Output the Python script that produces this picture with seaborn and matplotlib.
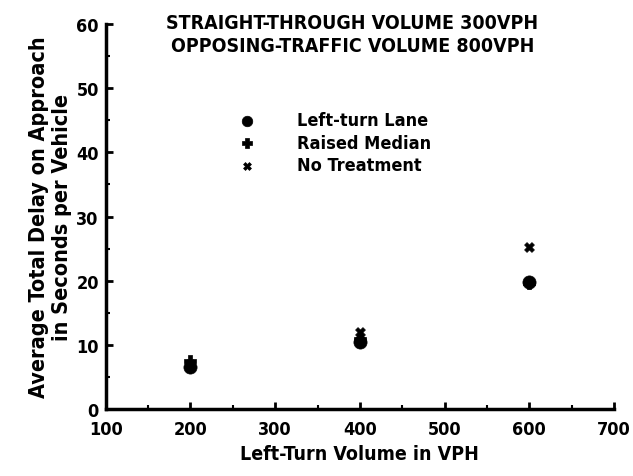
import matplotlib
matplotlib.use("Agg")
import matplotlib.pyplot as plt
from matplotlib.ticker import MultipleLocator
import seaborn as sns
import pandas as pd

# Left-turn volume (VPH) and average total delay (s/veh) per treatment
volumes = [200, 400, 600]
left_turn_lane = [6.5, 10.5, 19.8]
raised_median = [7.5, 11.0, 19.6]
no_treatment = [7.0, 12.0, 25.2]
treatments = ["Left-turn Lane", "Raised Median", "No Treatment"]

df = pd.DataFrame({
    "volume": volumes * 3,
    "delay": left_turn_lane + raised_median + no_treatment,
    "treatment": [t for t in treatments for _ in volumes],
})

sns.set_theme(style="white")
plt.rcParams["font.family"] = ["DejaVu Sans"]
plt.rcParams["font.stretch"] = "condensed"
plt.rcParams["font.weight"] = "bold"
plt.rcParams["axes.labelweight"] = "bold"
for key in ("text.color", "axes.labelcolor", "xtick.color", "ytick.color"):
    plt.rcParams[key] = "black"

fig = plt.figure(figsize=(6.33, 4.77), dpi=100)
ax = fig.add_axes([0.167, 0.14, 0.803, 0.808])

markers = {"Left-turn Lane": "o", "Raised Median": "P", "No Treatment": "X"}
sizes = {"Left-turn Lane": 90, "Raised Median": 80, "No Treatment": 50}
for t in treatments:
    sub = df[df.treatment == t]
    sns.scatterplot(data=sub, x="volume", y="delay", marker=markers[t],
                    s=sizes[t], color="black", edgecolor="black",
                    linewidth=0.5, ax=ax, label=t, zorder=3)

ax.set_xlim(100, 700)
ax.set_ylim(0, 60)
ax.xaxis.set_major_locator(MultipleLocator(100))
ax.xaxis.set_minor_locator(MultipleLocator(50))
ax.yaxis.set_major_locator(MultipleLocator(10))
ax.yaxis.set_minor_locator(MultipleLocator(5))
ax.tick_params(which="major", direction="in", length=5, width=2, labelsize=13,
               left=True, bottom=True)
ax.tick_params(axis="x", which="major", pad=8)
ax.tick_params(axis="y", which="major", pad=5)
ax.tick_params(which="minor", direction="in", length=3, width=1.5,
               left=True, bottom=True)
for side in ("top", "right"):
    ax.spines[side].set_visible(False)
for side in ("left", "bottom"):
    ax.spines[side].set_linewidth(2.5)
    ax.spines[side].set_color("black")

ax.set_xlabel("Left-Turn Volume in VPH", fontsize=14, labelpad=4)
ax.set_ylabel("Average Total Delay on Approach\nin Seconds per Vehicle",
              fontsize=15.5, labelpad=3, linespacing=1.2)

ax.text(0.485, 1.027, "STRAIGHT-THROUGH VOLUME 300VPH\nOPPOSING-TRAFFIC VOLUME 800VPH",
        transform=ax.transAxes, ha="center", va="top", fontsize=14,
        linespacing=1.25)

ax.legend(loc="upper left", bbox_to_anchor=(0.21, 0.815), frameon=False,
          fontsize=13, handletextpad=1.8, labelspacing=0.25, markerscale=0.8)

fig.savefig("out.png", dpi=100, facecolor="white")
